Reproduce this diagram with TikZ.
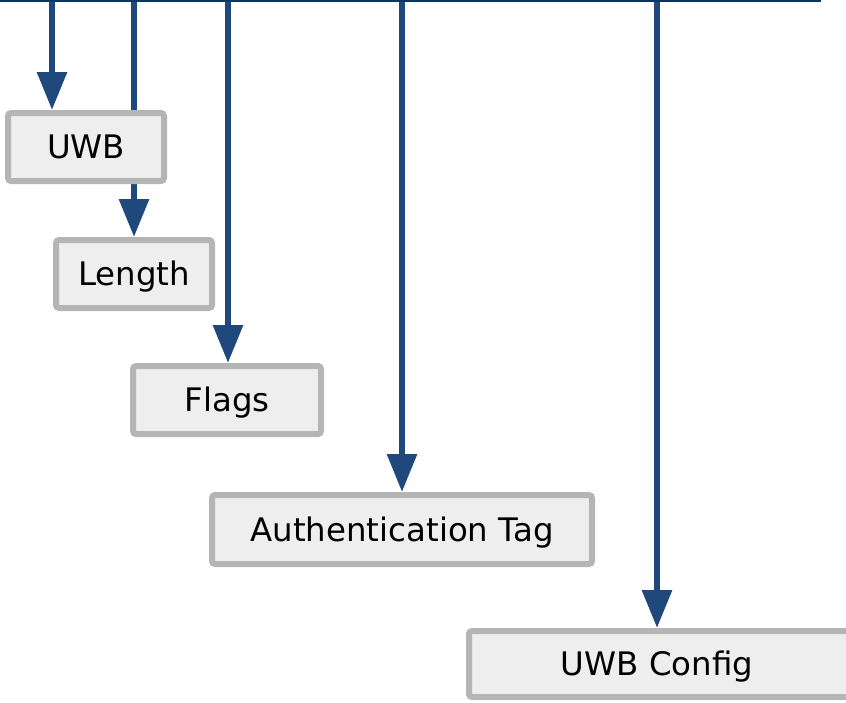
\documentclass[tikz,border=0pt]{standalone}
\usepackage{fontspec}
\setmainfont{DejaVu Sans}
\usetikzlibrary{arrows.meta,backgrounds}
\definecolor{arrowblue}{HTML}{1F497D}
\definecolor{topblue}{HTML}{0D3560}
\definecolor{boxfill}{HTML}{EEEEEE}
\definecolor{boxline}{HTML}{B5B5B5}
\begin{document}
\begin{tikzpicture}[x=1pt,y=-1pt,
  field/.style={draw=boxline, fill=boxfill, line width=6pt, rounded corners=3pt,
    minimum height=68pt, inner sep=0pt, text height=28pt, text depth=5pt,
    font=\fontsize{32.4}{38}\selectfont, text=black},
  feed/.style={draw=arrowblue, line width=6pt, -{Triangle[length=38pt,width=29pt]}}]
\useasboundingbox (0,0) rectangle (846,702);
\node[field, minimum width=156pt] (uwb) at (86,147) {UWB};
\node[field, minimum width=156pt] (len) at (134,274) {Length};
\node[field, minimum width=188pt] (flags) at (227,400) {Flags};
\node[field, minimum width=380pt, minimum height=69pt] (auth) at (402,529.5) {Authentication Tag};
\node[field, minimum width=384pt, minimum height=66pt] (cfg) at (661,664) {\hspace*{-8pt}UWB Config};
\coordinate (tl) at (0,1);
\coordinate (tr) at (821,1);
\coordinate (s1) at (52,0);
\coordinate (s2) at (134,0);
\coordinate (s3) at (228,0);
\coordinate (s4) at (402,0);
\coordinate (s5) at (657,0);
\begin{scope}[on background layer]
\draw[feed] (s1) -- (s1 |- uwb.north);
\draw[feed] (s2) -- (s2 |- len.north);
\draw[feed] (s3) -- (s3 |- flags.north);
\draw[feed] (s4) -- (s4 |- auth.north);
\draw[feed] (s5) -- (s5 |- cfg.north);
\end{scope}
\draw[topblue, line width=2pt] (tl) -- (tr);
\end{tikzpicture}
\end{document}
